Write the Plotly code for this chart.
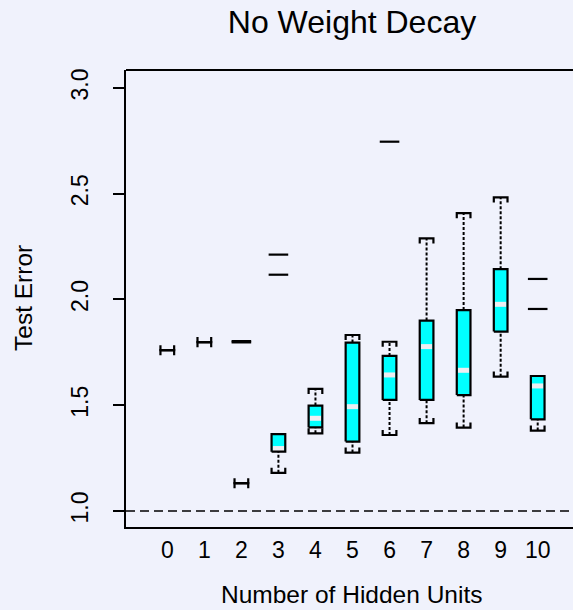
import plotly.graph_objects as go

# ---- data ----
hidden_units = [0, 1, 2, 3, 4, 5, 6, 7, 8, 9, 10]
lower_whisker = [1.760, 1.798, 1.131, 1.180, 1.367, 1.276, 1.359, 1.415, 1.394, 1.635, 1.380]
q1 =            [1.760, 1.798, 1.131, 1.280, 1.395, 1.328, 1.525, 1.525, 1.548, 1.848, 1.433]
median =        [1.760, 1.798, 1.131, 1.295, 1.438, 1.493, 1.643, 1.777, 1.665, 1.977, 1.591]
q3 =            [1.760, 1.798, 1.131, 1.363, 1.498, 1.796, 1.733, 1.900, 1.950, 2.143, 1.638]
upper_whisker = [1.760, 1.798, 1.131, 1.363, 1.577, 1.832, 1.800, 2.289, 2.408, 2.483, 1.638]
outlier_x = [2, 2, 3, 3, 6, 10, 10]
outlier_y = [1.797, 1.803, 2.212, 2.117, 2.746, 2.097, 1.955]
y_ticks = [1.0, 1.5, 2.0, 2.5, 3.0]
y_tick_labels = ["1.0", "1.5", "2.0", "2.5", "3.0"]
reference_error = 1.0

# ---- style ----
BG = "#F0F2FC"
FONT = "Liberation Sans, Arial, sans-serif"
HW = 0.185      # half box width (x units)
TICK = 0.024    # cap end-tick length (y units)

fill_x, fill_y = [], []
out_x, out_y = [], []
med_x, med_y = [], []
wh_x, wh_y = [], []
cap_x, cap_y = [], []
for x, lo, a, m, b, hi in zip(hidden_units, lower_whisker, q1, median, q3, upper_whisker):
    degenerate = a == b
    if not degenerate:
        fill_x += [x - HW, x + HW, x + HW, x - HW, x - HW, None]
        fill_y += [a, a, b, b, a, None]
        med_x += [x - HW + 0.03, x + HW - 0.03, None]
        med_y += [m, m, None]
    out_x += [x - HW, x + HW, x + HW, x - HW, x - HW, None]
    out_y += [a, a, b, b, a, None]
    if hi > b:
        wh_x += [x, x, None]
        wh_y += [b, hi, None]
    if lo < a:
        wh_x += [x, x, None]
        wh_y += [lo, a, None]
    if hi > b or degenerate:
        cap_x += [x - HW, x - HW, x + HW, x + HW, None]
        cap_y += [hi - TICK, hi, hi, hi - TICK, None]
    if lo < a or degenerate:
        cap_x += [x - HW, x - HW, x + HW, x + HW, None]
        cap_y += [lo + TICK, lo, lo, lo + TICK, None]

fig = go.Figure()
fig.add_trace(go.Scatter(x=fill_x, y=fill_y, mode="lines", fill="toself",
                         fillcolor="#00FFFF", line=dict(width=0), hoverinfo="skip"))
fig.add_trace(go.Scatter(x=med_x, y=med_y, mode="lines",
                         line=dict(color="#EEEEF2", width=5), hoverinfo="skip"))
fig.add_trace(go.Scatter(x=out_x, y=out_y, mode="lines",
                         line=dict(color="black", width=2.2), hoverinfo="skip"))
fig.add_trace(go.Scatter(x=wh_x, y=wh_y, mode="lines",
                         line=dict(color="black", width=2, dash="3px,2px"), hoverinfo="skip"))
fig.add_trace(go.Scatter(x=cap_x, y=cap_y, mode="lines",
                         line=dict(color="black", width=2.2), hoverinfo="skip"))
fig.add_trace(go.Scatter(x=outlier_x, y=outlier_y, mode="markers",
                         marker=dict(symbol="line-ew", size=14,
                                     line=dict(color="black", width=2.2)),
                         hoverinfo="skip"))

fig.add_hline(y=reference_error, line=dict(color="black", width=1.5, dash="9px,5px"))
# top frame line
fig.add_shape(type="line", xref="paper", yref="paper", x0=0, x1=1, y0=1, y1=1,
              line=dict(color="black", width=2))

fig.update_layout(
    width=573, height=610,
    paper_bgcolor=BG, plot_bgcolor=BG,
    margin=dict(l=126, r=0, t=70, b=83),
    showlegend=False,
    font=dict(family=FONT, color="black"),
    title=dict(text="No Weight Decay", x=352 / 573, xref="container", xanchor="center",
               y=1 - 22 / 610, yref="container", yanchor="middle",
               font=dict(size=32, family=FONT, color="black")),
    xaxis=dict(range=[-1.115, 10.953], tickmode="array", tickvals=hidden_units,
               ticktext=[str(v) for v in hidden_units], showgrid=False, zeroline=False,
               showline=True, linecolor="black", linewidth=2, ticks="",
               tickfont=dict(size=23), ticklabelstandoff=1),
    yaxis=dict(range=[0.924, 3.085], tickmode="array", tickvals=y_ticks,
               ticktext=y_tick_labels, tickangle=-90, showgrid=False, zeroline=False,
               showline=True, linecolor="black", linewidth=2, ticks="outside",
               ticklen=11, tickwidth=1.5, tickcolor="black", tickfont=dict(size=23),
               ticklabelstandoff=16),
)
fig.add_annotation(text="Number of Hidden Units", xref="paper", yref="paper",
                   x=(351 - 126) / 447, y=-(594 - 527) / 457, yanchor="middle",
                   showarrow=False, font=dict(size=24.5, family=FONT, color="black"))
fig.add_annotation(text="Test Error", xref="paper", yref="paper",
                   x=-(126 - 23) / 447, y=(527 - 298) / 457, xanchor="center", yanchor="middle",
                   textangle=-90, showarrow=False, font=dict(size=24.5, family=FONT, color="black"))

fig.write_html(
    "out.html",
    config={"displayModeBar": False},
    post_script="document.body.style.margin='0';document.body.style.overflow='hidden';"
                "document.body.style.background='" + BG + "';",
)
